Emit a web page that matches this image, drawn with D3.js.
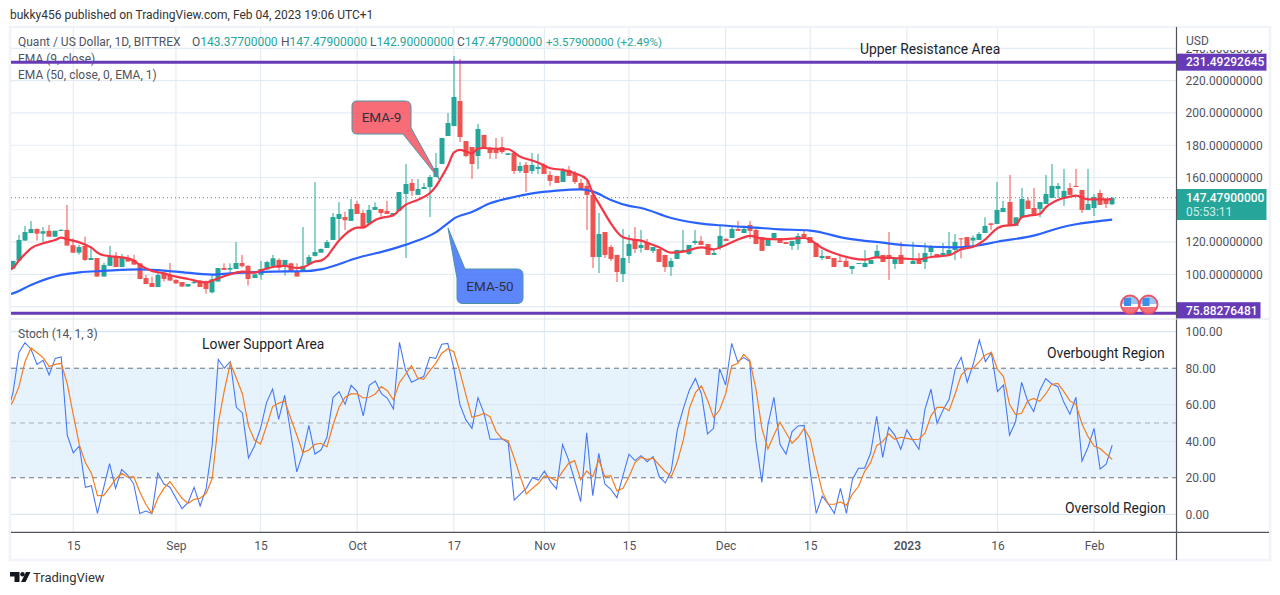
<!DOCTYPE html>
<html>
	<head>
		<title>Quant / US Dollar</title>
		<script src="https://d3js.org/d3.v7.min.js"></script>
		<style>
			body { margin: 0; background: #fff; }
			text { font-family: Roboto, sans-serif; font-size: 12px; fill: #50535e; }
			.note { font-size: 13.9px; fill: #1c1f2b; }
			.axis path, .axis line { display: none; }
		</style>
	</head>
	<body>
		<svg width="1280" height="595"></svg>
		<script type="text/javascript">
			// candles, one per daily bar (5 Aug 2022 - 4 Feb 2023)
			var opens = [
				103.5,108.5,120.9,125.6,128.1,125.2,127,123.3,126.9,127.5,
				118,113.4,117.6,108.9,110.1,98.6,105.2,111.2,104.5,110.1,
				108.9,106.8,97.7,94.6,92.1,101,99.6,96.5,95.2,92.4,
				94.6,96.1,95.5,88.8,95.5,103.9,102.9,103.3,107,105.2,
				97.7,99.6,103,105.2,108.9,105,106.8,101.9,101.7,106.4,
				111.4,113.4,116.3,121.3,134.3,135.5,133.1,143.6,138,131.6,
				139.9,140.5,139.3,136.8,139.3,149.8,156.6,149.2,152.9,154.1,
				160.3,168.4,185.7,191.9,207.4,182.6,178.9,173.3,186.4,178.3,
				177.1,178.9,174,175.2,164,167.8,164,165.3,167.8,161.6,
				161,157.2,164.7,162.2,156.6,154.8,149.2,110.7,126.2,116.9,
				112,100.2,111.4,121.3,116.3,119.8,114.5,115.7,112,104.5,
				109.5,114.7,112.6,119.4,120.7,118.8,112,116.3,121.9,122.5,
				128.1,125.6,130.6,127.5,123.1,117.6,122.5,122.5,120,117.6,
				118.8,125,123.1,119.4,110.1,111.4,110.1,108.3,108.3,103.3,
				106.4,104.5,106.4,110.1,112,112,106.4,112,109.9,106.4,
				109.3,107.6,113.8,112.6,111.4,112,115.1,122.3,123.1,120.9,
				121.3,125.6,131.6,131.2,138.6,144.8,130,135.3,145.7,141.1,
				140.5,143.6,147.3,152.9,147.3,153.5,154.8,152.3,139.9,141.1,
				150.4,146.1,143.38];
			var highs = [
				108.3,124.4,130,133,128.5,129.3,130.6,127,128.1,143,
				122.3,118.2,123.3,116.1,110.1,107.2,117.6,113.8,112.6,112,
				112,106.8,99.6,98.6,101,101,107,96.9,95.2,94,
				96,96.1,96,99.6,103.9,106.8,106.8,120,112,105.8,
				100,108.3,108.3,112,109.9,108.9,107.2,106.8,129.3,112,
				157.2,116,121.3,138,144.8,138.8,146.7,145.5,139.9,143,
				144.6,140.5,145.5,138,151,168.4,159.1,159.1,156.6,161.6,
				175.2,184.5,200,235.3,233.5,182.6,178.9,193.2,186.4,179.1,
				184.5,185.1,175,175.2,169.6,169.6,175.2,174.6,169,164,
				161,165.9,167.1,164,159.1,159.1,149.2,138,126.2,118.2,
				112,128.1,124.4,129.3,127.5,121.9,116.9,115.7,112,110.1,
				115.1,127.5,118.2,127.5,123.8,118.8,115.1,130.6,122.5,130,
				133.1,130,133.1,129.3,123.1,122.5,125.6,122.5,120,120.7,
				125.6,126.9,123.1,119.4,115.1,111.4,110.1,111.4,110.1,105.2,
				107,115.1,108.9,118.2,112,126.2,109.5,120,109.9,120,
				113.2,119.4,118.2,112.6,119.4,126.2,125,122.5,123.1,124,
				126.2,135.3,131.6,157.2,145.5,161.6,135.5,153.5,147.7,153.5,
				144.8,161.6,168.4,156.6,165.3,156.6,165.3,152.3,165.3,149.8,
				152.3,146.1,147.48];
			var lows = [
				103.5,108.5,120.9,125.4,120.9,120,123.3,123.3,126.9,117.8,
				113.4,112.2,108.3,108.9,98.6,98.6,105.2,104.5,104.5,107.9,
				106,97.1,94,92.1,92.1,95.5,96.1,94,92.4,92.4,
				94,92.1,88,88.2,95.5,102.7,100.6,103.3,104.3,93,
				97.7,96.7,103,105.2,102.3,99.2,101.7,98.6,101.7,106.4,
				111,113.4,116.3,121.3,121.9,127.5,133.1,137.4,129.3,131.6,
				139.9,135.7,137.4,136.8,139.3,110.1,148.6,149.2,152.9,135.5,
				160.3,168.4,185.7,191.9,182,172.7,159.1,165.3,178.3,171.5,
				171.5,174.6,174,162.2,162.8,151,162.2,162.2,162.2,154.8,
				156.6,157.2,161,156,152.3,127.5,103.9,100.8,110.1,108.3,
				95.2,95.2,107,113.2,113.4,115.1,113.2,107.6,101.4,99,
				109.5,114.7,112,118.2,118.2,112,112,115.1,120.7,122.5,
				126.9,125.6,121.9,118.8,114.5,117.6,122.5,119.4,118.8,115.1,
				115.1,123.1,119.4,110.7,108.9,109.5,104.5,107.6,104.5,100.2,
				106.4,104.5,106.4,110.1,107.6,96.5,103.3,106.4,109.3,106.4,
				106.4,103.3,111.4,111,111.4,112,108.9,109.9,116.3,118,
				121.3,125.6,127.5,131.2,138.6,130,130,135.3,140.5,137.4,
				135.3,143.6,147.3,147.3,142.4,149.2,154.1,138,139.9,136.2,
				143,141.1,142.9];
			var closes = [
				108.3,121.3,126.2,128.1,125.2,126.7,123.3,127,127.5,117.8,
				113.4,116.9,108.9,110.1,98.6,105.8,110.7,104.5,110.1,107.9,
				106,97.1,94,92.1,99.6,97.1,96.1,94.4,92.4,94,
				95.2,92.1,90.9,96.9,103.9,102.7,103.9,107,105,97.1,
				100,103.3,107.6,109.9,104.1,108.9,101.7,98.6,105.2,110.7,
				113.8,115.7,120,135.5,137.4,133.5,140.5,137.4,129.3,139.9,
				141.7,138,137.4,138,151,156,151.7,152.9,154.1,160.3,
				165.9,184.5,193.8,209.9,185.1,173.3,168.4,190.1,178.3,175.2,
				175.2,175.8,175,164,167.1,162.8,167.8,166.5,162.2,157.9,
				156.6,164,161,157.2,152.3,149.2,110.7,125,112,109.5,
				101.4,110.1,118.8,115.7,118.2,115.1,116.9,107.6,104.5,108.3,
				115.1,115.1,118.2,120.7,118.2,112,113.2,123.8,120.7,128.1,
				126.9,128.1,126.9,118.8,114.5,122.5,125.6,119.4,118.8,120.7,
				123.8,123.1,119.4,110.7,111.4,109.5,104.5,107.6,104.5,105.2,
				107,107,108.9,114.5,107.6,109.5,109.5,106.4,109.3,108.3,
				106.4,113.2,116.9,111,113.2,115.1,120,121.7,116.3,122.7,
				125,130,130.6,139.9,141.1,130,135.3,146.7,140.5,137.4,
				144.8,149.8,154.8,154.8,151.7,149.2,154.1,139.9,143.6,147.9,
				143,143.6,147.48];

			// EMA lines, at the bars where they bend
			var ema9Bars = [-1,0,1,2,3,5,7,8,9,11,13,14,15,17,19,20,21,23,25,27,29,32,33,34,36,38,40,41,43,45,47,48,50,51,52,53,54,56,57,58,59,60,62,63,64,65,67,69,70,71,72,73,74,75,76,77,78,80,82,84,86,87,89,91,93,95,96,97,99,100,101,103,104,105,107,109,111,114,116,118,121,122,124,127,131,132,134,136,139,141,143,147,150,152,155,157,159,161,163,164,166,167,168,170,171,173,175,176,178,182];
			var ema9Vals = [102,103.9,108.5,112.6,116.1,119.2,121.3,122.7,121.7,119.8,116.5,113.4,111.8,110.9,109.9,108.5,105.8,102.1,100.6,98.6,97.1,95,96.1,97.5,100,101.7,101,102.3,104.5,105.2,103.9,104.3,107.9,108.5,111,116.1,120.9,127.5,128.9,128.9,131.2,133.7,135.7,136.6,139.9,143,146.1,150.2,154.3,160.5,167.1,175.4,177.1,176.2,175,177.9,178.3,177.7,177.5,172.9,170.5,169.2,165.7,164.7,162.6,158.9,150.2,144,131.6,126.4,122.9,121.3,120.9,119.6,116.7,113.4,114,116.7,115.5,118.2,122.9,123.8,122.1,121.7,122.5,121.3,116.3,113,109.9,109.1,110.5,109.9,109.3,110.7,111.8,115.5,117.1,121.7,128.5,130,130.6,135.3,136.2,137.4,141.5,146.1,148.1,148.8,146.5,146.5];
			var ema50Bars = [-1,0,3,8,11,15,21,27,33,36,43,48,51,57,63,67,70,72,73,76,79,82,86,90,94,96,99,102,104,109,115,117,123,127,132,138,144,148,156,160,163,169,174,176,182];
			var ema50Vals = [87.5,88.2,93.4,99.6,101.2,102.1,103.1,101.7,99.8,100.6,101.7,101.9,103.1,110.1,115.9,120.9,126,131.6,134.5,138.6,144,147.1,150.2,151.9,152.7,151.4,146.1,142.4,141.1,134.9,131,130.4,128.9,127.9,127.1,122.3,119.6,118,116.7,118,120.2,124,129.5,131,133.9];

			// stochastic %K and %D, first value is the bar just left of the chart edge
			var stochK = [
				55,66.3,88.7,94,90.4,82.1,84.3,76.3,85.4,86.2,43.3,
				33.6,37.4,14.8,15.7,0.5,14.2,27.7,14.2,24.6,21.5,
				16.6,0.4,1.8,0.4,22.5,16.6,14.8,8.8,3.1,6.4,
				14.8,4.6,14.2,38,84.9,80,83.6,58.6,55.5,30.9,
				37.4,47.1,61.3,68.6,52,65.2,44.4,23.2,33.4,48.7,
				33,35.2,42.2,63.9,67.2,60.2,70.6,67.2,53.9,70.6,
				73,66.1,63.5,57.7,94.2,79,72.3,73.9,75.4,86,
				85.4,93.1,93.6,80,60.2,51.7,47.1,63.9,55.3,41.1,
				41.1,41.4,39.2,7.8,11,14.2,20,18.8,23.7,17.9,
				13.9,38.2,29.8,18.8,6.9,44.7,10.2,33.4,16.6,13.7,
				9.1,21.2,32.9,29.4,32.1,28.8,31.6,20.6,17.2,23.9,
				46.2,58,68.1,74.3,65.9,44,47.1,79.8,70.8,93.6,
				83.6,85.8,83.6,40.2,17.5,48.9,64.1,38.3,33,45.3,
				48.4,48.7,23.5,0.5,10,5.7,0.5,14.2,0.5,19.2,
				25.2,25.2,33.4,53.7,31.2,47.6,43.4,35.6,46.2,40.7,
				35.6,57.5,68.5,49.8,57.1,63,79.4,86,72.3,82.3,
				95.5,83.6,88.5,67.2,70.8,43.3,50.7,72.3,62.1,56.2,
				67.7,74.3,71.4,69.9,61.3,54.8,64.1,29.2,36.7,47.1,
				24.8,27.4,37.8];
			var stochD = [
				57,61.7,69.9,83.6,91.1,88.5,85.8,80.9,82.1,82.7,71.4,
				54.4,38,28.3,22.5,10.2,10.2,14.6,19.2,22.5,20.3,
				20.6,12.4,5.5,0.5,8.8,14.2,17.9,13.3,8.8,6,
				8.2,8.8,11.5,19.7,49.8,67.7,82.7,74.5,65.9,48.4,
				40.7,38.5,48.4,59,60.8,62,52.6,43.4,33.8,35.2,
				38.3,38.9,37,48.9,58.6,64.1,65.9,65.9,63.7,64.1,
				65.9,69.9,67.7,62.6,72.1,76.7,81.4,74.7,73.9,78.5,
				82.7,88.2,90.7,89,78.1,65.4,53.1,54,55.3,53.5,
				45.3,41.3,40.3,30.7,20.6,11.1,14.2,17,21,20.1,
				18.4,23.4,27.9,29.4,18.8,23.7,20.6,29.8,20.6,21.2,
				12.8,14.2,20.6,28.3,31.2,30.1,30.7,27,23.4,20.6,
				28.8,40.7,58,66.6,70.3,62.6,53.1,57.1,65.9,81.2,
				82.7,87.6,84.2,69,47.1,35.8,43.4,50.4,44.7,38.9,
				42.2,47.1,41.3,26.1,12.4,5.5,5.5,6.8,4.9,11.1,
				15.2,23.4,28.3,37.6,39.8,44,41.1,42.2,41.6,40.9,
				41.1,44.4,53.9,58.6,58.6,56.8,66,76.3,79.6,80,
				83.6,87.3,88.7,79.4,75.4,60.2,54.6,55.3,62.1,63.5,
				61.9,65.9,71.2,71.7,67.2,62.1,60.2,49.5,42.5,37.4,
				36,33,30.1];

			// axes
			var timeBars = [10,27,41,57,73,88,102,118,132,148,163,179];
			var timeLabels = ["15","Sep","15","Oct","17","Nov","15","Dec","15","2023","16","Feb"];
			var priceTicks = [100,120,160,180,200,220];
			var priceGrid = [80,100,120,140,160,180,200,220,240];
			var stochTicks = [0,20,40,60,80,100];
			var resistance = 231.49292645, support = 75.88276481, lastClose = 147.479;

			var svg = d3.select("svg");
			// paneTop, not top: a global var named top is window.top in a browser
			var paneLeft = 11, paneRight = 1176.5, paneTop = 28, paneBottom = 318.6, stochBottom = 532.3;
			var green = "#26a69a", red = "#ef5350", purple = "#673ab7", grid = "#e4ecf3";

			var x = d3.scaleLinear().domain([0, 182]).range([12.9, 1112.2]);
			var y = d3.scaleLinear().domain([100, 220]).range([274.3, 80.7]);
			var ys = d3.scaleLinear().domain([0, 100]).range([514.3, 331.7]);

			var defs = svg.append("defs");
			defs.append("clipPath").attr("id", "main").append("rect")
				.attr("x", paneLeft).attr("y", paneTop).attr("width", paneRight - paneLeft).attr("height", paneBottom - paneTop);
			defs.append("clipPath").attr("id", "lower").append("rect")
				.attr("x", paneLeft).attr("y", paneBottom).attr("width", paneRight - paneLeft).attr("height", stochBottom - paneBottom);

			// frame
			svg.append("rect").attr("x", 10).attr("y", 27).attr("width", 1260).attr("height", 533)
				.attr("fill", "#fff").attr("stroke", "#f0f3fa").attr("stroke-width", 2.5);

			// band goes under the grid
			svg.append("rect").attr("x", paneLeft).attr("width", paneRight - paneLeft)
				.attr("y", ys(80)).attr("height", ys(20) - ys(80)).attr("fill", "#e6f3fd");

			svg.append("g").selectAll("line").data(timeBars).enter().append("line")
				.attr("x1", function(d) { return x(d); }).attr("x2", function(d) { return x(d); })
				.attr("y1", paneTop).attr("y2", stochBottom)
				.attr("stroke", grid).attr("stroke-width", 1.2);
			svg.append("g").selectAll("line").data(priceGrid).enter().append("line")
				.attr("x1", paneLeft).attr("x2", paneRight)
				.attr("y1", function(d) { return y(d); }).attr("y2", function(d) { return y(d); })
				.attr("stroke", grid).attr("stroke-width", 1.2);
			svg.append("g").selectAll("line").data([0,40,60,100]).enter().append("line")
				.attr("x1", paneLeft).attr("x2", paneRight)
				.attr("y1", function(d) { return ys(d); }).attr("y2", function(d) { return ys(d); })
				.attr("stroke", "#d9e7f2").attr("stroke-width", 1.2);

			// stochastic band levels
			svg.append("g").selectAll("line").data([80,50,20]).enter().append("line")
				.attr("x1", paneLeft).attr("x2", paneRight)
				.attr("y1", function(d) { return ys(d); }).attr("y2", function(d) { return ys(d); })
				.attr("stroke", function(d) { return d == 50 ? "#a9abb3" : "#6f727c"; })
				.attr("stroke-dasharray", "5 4");

			// price pane
			var main = svg.append("g").attr("clip-path", "url(#main)");

			main.append("line").attr("x1", paneLeft).attr("x2", paneRight)
				.attr("y1", y(lastClose)).attr("y2", y(lastClose))
				.attr("stroke", green).attr("stroke-dasharray", "1 3");

			var candles = main.append("g").selectAll("g").data(closes).enter().append("g")
				.attr("fill", function(d, i) { return d >= opens[i] ? green : red; });
			candles.append("rect")
				.attr("x", function(d, i) { return Math.round(x(i)) - 0.5; })
				.attr("width", 1)
				.attr("y", function(d, i) { return y(highs[i]); })
				.attr("height", function(d, i) { return y(lows[i]) - y(highs[i]); });
			candles.append("rect")
				.attr("x", function(d, i) { return Math.round(x(i)) - 2.5; })
				.attr("width", 5)
				.attr("y", function(d, i) { return y(Math.max(d, opens[i])); })
				.attr("height", function(d, i) { return Math.max(1, Math.abs(y(d) - y(opens[i]))); });

			var emaLine = d3.line()
				.x(function(d) { return x(d[0]); })
				.y(function(d) { return y(d[1]); })
				.curve(d3.curveMonotoneX);
			main.append("path").attr("d", emaLine(d3.zip(ema50Bars, ema50Vals)))
				.attr("fill", "none").attr("stroke", "#2962ff").attr("stroke-width", 2.2);
			main.append("path").attr("d", emaLine(d3.zip(ema9Bars, ema9Vals)))
				.attr("fill", "none").attr("stroke", "#f23645").attr("stroke-width", 2.2);

			// legend goes under the purple lines
			function label(text, px, py, color) {
				var t = svg.append("text").attr("x", px).attr("y", py).text(text);
				if (color) t.style("fill", color);
				return t;
			}
			label("Quant / US Dollar, 1D, BITTREX", 18, 46);
			[["O", "143.37700000", 192], ["H", "147.47900000", 281], ["L", "142.90000000", 370], ["C", "147.47900000", 457]].forEach(function(d) {
				var t = svg.append("text").attr("x", d[2]).attr("y", 46);
				t.append("tspan").text(d[0]);
				t.append("tspan").style("fill", green).text(d[1]);
			});
			label("+3.57900000 (+2.49%)", 546, 46, green).style("font-size", "11.5px");
			label("EMA (9, close)", 18, 63);
			label("EMA (50, close, 0, EMA, 1)", 18, 79);
			label("Stoch (14, 1, 3)", 18, 338);

			svg.append("g").selectAll("line").data([resistance, support]).enter().append("line")
				.attr("x1", paneLeft).attr("x2", paneRight)
				.attr("y1", function(d) { return y(d); }).attr("y2", function(d) { return y(d); })
				.attr("stroke", purple).attr("stroke-width", 3);

			// stochastic pane
			var lower = svg.append("g").attr("clip-path", "url(#lower)");
			var stochLine = d3.line()
				.x(function(d, i) { return x(i - 1); })
				.y(function(d) { return ys(d); });
			lower.append("path").attr("d", stochLine(stochK))
				.attr("fill", "none").attr("stroke", "#4678f5").attr("stroke-width", 1.1);
			lower.append("path").attr("d", stochLine(stochD))
				.attr("fill", "none").attr("stroke", "#f57c1f").attr("stroke-width", 1.2);

			// callouts
			function callout(path, fill) {
				svg.append("path").attr("d", path).attr("fill", fill).attr("stroke", "#4a93a6").attr("stroke-width", 1);
			}
			callout("M357 101H405Q411 101 411 107V128L440 180L403 134H357Q352 134 352 129V106Q352 101 357 101Z", "rgba(247,82,95,0.85)");
			callout("M448 228L465 269H517Q523 269 523 275V298Q523 303.5 517 303.5H463Q457 303.5 457 298V278Z", "rgba(66,113,250,0.85)");
			svg.append("text").attr("x", 381.5).attr("y", 122).attr("text-anchor", "middle").style("font-size", "13.5px").style("fill", "#2f3140").text("EMA-9");
			svg.append("text").attr("x", 490).attr("y", 291).attr("text-anchor", "middle").style("font-size", "13.5px").style("fill", "#2f3140").text("EMA-50");

			// notes
			svg.append("text").attr("class", "note").attr("x", 860).attr("y", 54).text("Upper Resistance Area");
			svg.append("text").attr("class", "note").attr("x", 202).attr("y", 349).text("Lower Support Area");
			svg.append("text").attr("class", "note").attr("x", 1047).attr("y", 358).text("Overbought Region");
			svg.append("text").attr("class", "note").attr("x", 1065).attr("y", 513).text("Oversold Region");

			// flags sitting on the support line
			[1130, 1148.5].forEach(function(cx, n) {
				var id = "flag" + n;
				defs.append("clipPath").attr("id", id).append("circle").attr("cx", cx).attr("cy", 304.5).attr("r", 8.5);
				var f = svg.append("g");
				var inner = f.append("g").attr("clip-path", "url(#" + id + ")");
				inner.append("rect").attr("x", cx - 9).attr("y", 295).attr("width", 18).attr("height", 19).attr("fill", "#fff");
				inner.append("rect").attr("x", cx - 9).attr("y", 295).attr("width", 18).attr("height", 9).attr("fill", "#9cc7f5");
				inner.append("rect").attr("x", cx - 9).attr("y", 307).attr("width", 18).attr("height", 7).attr("fill", "#f4707c");
				inner.append("rect").attr("x", cx - 6).attr("y", 298).attr("width", 7).attr("height", 8).attr("fill", "#3f8fe8");
				f.append("circle").attr("cx", cx).attr("cy", 304.5).attr("r", 9)
					.attr("fill", "none").attr("stroke", "#f0525f").attr("stroke-width", 1.8);
			});

			// right scale
			var axisFont = function(g) {
				g.attr("class", "axis");
				g.selectAll("text").style("font-size", "12px").style("fill", "#50535e");
			};
			svg.append("g").attr("transform", "translate(" + paneRight + ",0)")
				.call(d3.axisRight(y).tickValues([240]).tickSize(0).tickPadding(9).tickFormat(d3.format(".8f")))
				.call(axisFont);
			// only the bottom edge of the 240 label shows under USD
			svg.append("rect").attr("x", paneRight + 1).attr("y", paneTop).attr("width", 90).attr("height", 22).attr("fill", "#fff");
			label("USD", 1186, 45);
			svg.append("g").attr("transform", "translate(" + paneRight + ",0)")
				.call(d3.axisRight(y).tickValues(priceTicks).tickSize(0).tickPadding(9).tickFormat(d3.format(".8f")))
				.call(axisFont);
			svg.append("g").attr("transform", "translate(" + paneRight + ",0)")
				.call(d3.axisRight(ys).tickValues(stochTicks).tickSize(0).tickPadding(9).tickFormat(d3.format(".2f")))
				.call(axisFont);

			// price tags
			function tag(tagTop, w, h, fill) {
				svg.append("rect").attr("x", paneRight).attr("y", tagTop).attr("width", w).attr("height", h).attr("fill", fill);
			}
			tag(y(resistance) - 8.5, 90, 17, purple);
			label(d3.format(".8f")(resistance), 1186, y(resistance) + 4, "#fff").style("font-weight", 500);
			tag(y(support) - 11, 84, 16.5, purple);
			label(d3.format(".8f")(support), 1186, y(support) + 1.5, "#fff").style("font-weight", 500);
			tag(189, 90, 31, green);
			label(d3.format(".8f")(lastClose), 1186, 202, "#fff").style("font-weight", 500);
			label("05:53:11", 1186, 216, "#cdeee9");

			// time scale
			svg.append("g").attr("transform", "translate(0," + stochBottom + ")")
				.call(d3.axisBottom(x).tickValues(timeBars).tickSize(0).tickPadding(9)
					.tickFormat(function(d) { return timeLabels[timeBars.indexOf(d)]; }))
				.call(axisFont)
				.selectAll("text").style("font-weight", function(d) { return d == 148 ? 600 : 400; });

			// scale borders
			svg.append("line").attr("x1", paneRight).attr("x2", paneRight).attr("y1", 27).attr("y2", 560).attr("stroke", "#50535e").attr("stroke-width", 1.2);
			svg.append("line").attr("x1", paneLeft).attr("x2", 1269).attr("y1", stochBottom).attr("y2", stochBottom).attr("stroke", "#50535e").attr("stroke-width", 1.2);
			svg.append("line").attr("x1", paneLeft).attr("x2", 1269).attr("y1", paneBottom + 0.4).attr("y2", paneBottom + 0.4).attr("stroke", "#e0e3eb");

			// header and footer
			label("bukky456 published on TradingView.com, Feb 04, 2023 19:06 UTC+1", 10, 19, "#333");
			svg.append("path").attr("d", "M10 572H19.5V582H14.5V576.5H10ZM26 572H30.5L25.5 582H21Z").attr("fill", "#131722");
			svg.append("circle").attr("cx", 22.5).attr("cy", 574.3).attr("r", 2.2).attr("fill", "#131722");
			label("TradingView", 33, 582, "#333").style("font-size", "13px");
		</script>
	</body>
</html>
